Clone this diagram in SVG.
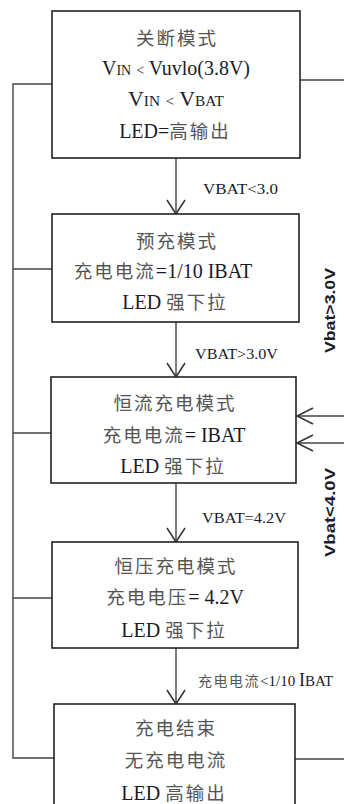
<svg xmlns="http://www.w3.org/2000/svg" width="344" height="804" viewBox="0 0 344 804">
<style>
.box{fill:#fff;stroke:#222;stroke-width:1.6}
.ln{fill:none;stroke:#444;stroke-width:1.4}
.hd{fill:none;stroke:#333;stroke-width:1.5}
.t{font-family:"Liberation Serif","Noto Sans CJK SC",serif;font-size:20px;fill:#1a1a2a;text-anchor:middle}
.cn{font-family:"Noto Sans CJK SC",sans-serif;fill:#555;font-size:18.5px;letter-spacing:2px}
.s{font-size:14px}
.lb{font-family:"Liberation Serif","Noto Sans CJK SC",serif;font-size:15px;fill:#1a1a2a}
.vl{font-family:"Liberation Sans",sans-serif;font-size:15px;fill:#1a1a2a;font-weight:bold}
</style>
<rect width="344" height="804" fill="#fff"/>
<g id="connectors">
<polyline class="ln" points="52,84 13,84 13,758 54,758"/>
<line class="ln" x1="13" y1="269" x2="52" y2="269"/>
<line class="ln" x1="13" y1="433" x2="51" y2="433"/>
<line class="ln" x1="13" y1="598" x2="52" y2="598"/>
<line class="ln" x1="300" y1="80" x2="344" y2="80"/>
<line class="ln" x1="295" y1="759" x2="344" y2="759"/>
<line class="ln" x1="297" y1="416" x2="344" y2="416"/>
<polyline class="hd" points="313,408 297,416 313,424"/>
<line class="ln" x1="297" y1="443" x2="344" y2="443"/>
<polyline class="hd" points="313,435 297,443 313,451"/>
<line class="ln" x1="176" y1="158" x2="176" y2="214"/>
<polyline class="hd" points="167,200 176,214 185,200"/>
<line class="ln" x1="176" y1="322" x2="176" y2="377"/>
<polyline class="hd" points="167,363 176,377 185,363"/>
<line class="ln" x1="176" y1="483" x2="176" y2="542"/>
<polyline class="hd" points="167,528 176,542 185,528"/>
<line class="ln" x1="176" y1="648" x2="176" y2="704"/>
<polyline class="hd" points="167,690 176,704 185,690"/>
<text class="lb" x="203" y="194" textLength="75" lengthAdjust="spacingAndGlyphs">VBAT&lt;3.0</text>
<text class="lb" x="195" y="359" textLength="83" lengthAdjust="spacingAndGlyphs">VBAT&gt;3.0V</text>
<text class="lb" x="202" y="523" textLength="84" lengthAdjust="spacingAndGlyphs">VBAT=4.2V</text>
<text class="lb" x="198" y="686"><tspan class="cn" style="font-size:14px;letter-spacing:1.5px">充电电流</tspan><tspan x="260">&lt;1/10 </tspan><tspan style="font-size:18px">I</tspan>BAT</text>
<text class="vl" transform="translate(335,353) rotate(-90)" textLength="85" lengthAdjust="spacingAndGlyphs">Vbat&gt;3.0V</text>
<text class="vl" transform="translate(335,557) rotate(-90)" textLength="89" lengthAdjust="spacingAndGlyphs">Vbat&lt;4.0V</text>
</g>
<g id="shutdown">
<rect class="box" x="52" y="11" width="248" height="147"/>
<text class="t cn" x="177" y="45">关断模式</text>
<text class="t" x="176" y="75" textLength="148" lengthAdjust="spacingAndGlyphs">V<tspan class="s">IN</tspan> <tspan class="s">&lt;</tspan> Vuvlo(3.8V)</text>
<text class="t" x="176" y="106" textLength="96" lengthAdjust="spacingAndGlyphs">V<tspan class="s">IN</tspan> <tspan class="s">&lt;</tspan> V<tspan class="s">BAT</tspan></text>
<text class="t" x="175" y="138">LED=<tspan class="cn">高输出</tspan></text>
</g>
<g id="precharge">
<rect class="box" x="52" y="214" width="247" height="108"/>
<text class="t cn" x="177" y="248">预充模式</text>
<text class="t" x="163" y="278"><tspan class="cn">充电电流</tspan>=1/10 IBAT</text>
<text class="t" x="175" y="309">LED <tspan class="cn">强下拉</tspan></text>
</g>
<g id="cc">
<rect class="box" x="51" y="377" width="245" height="106"/>
<text class="t cn" x="175" y="410">恒流充电模式</text>
<text class="t" x="174" y="442"><tspan class="cn">充电电流</tspan>= IBAT</text>
<text class="t" x="173" y="473">LED <tspan class="cn">强下拉</tspan></text>
</g>
<g id="cv">
<rect class="box" x="52" y="542" width="246" height="106"/>
<text class="t cn" x="176" y="573">恒压充电模式</text>
<text class="t" x="175" y="604"><tspan class="cn">充电电压</tspan>= 4.2V</text>
<text class="t" x="174" y="637">LED <tspan class="cn">强下拉</tspan></text>
</g>
<g id="done">
<rect class="box" x="54" y="704" width="241" height="110"/>
<text class="t cn" x="176" y="735">充电结束</text>
<text class="t cn" x="176" y="767">无充电电流</text>
<text class="t" x="174" y="800">LED <tspan class="cn">高输出</tspan></text>
</g>
</svg>
